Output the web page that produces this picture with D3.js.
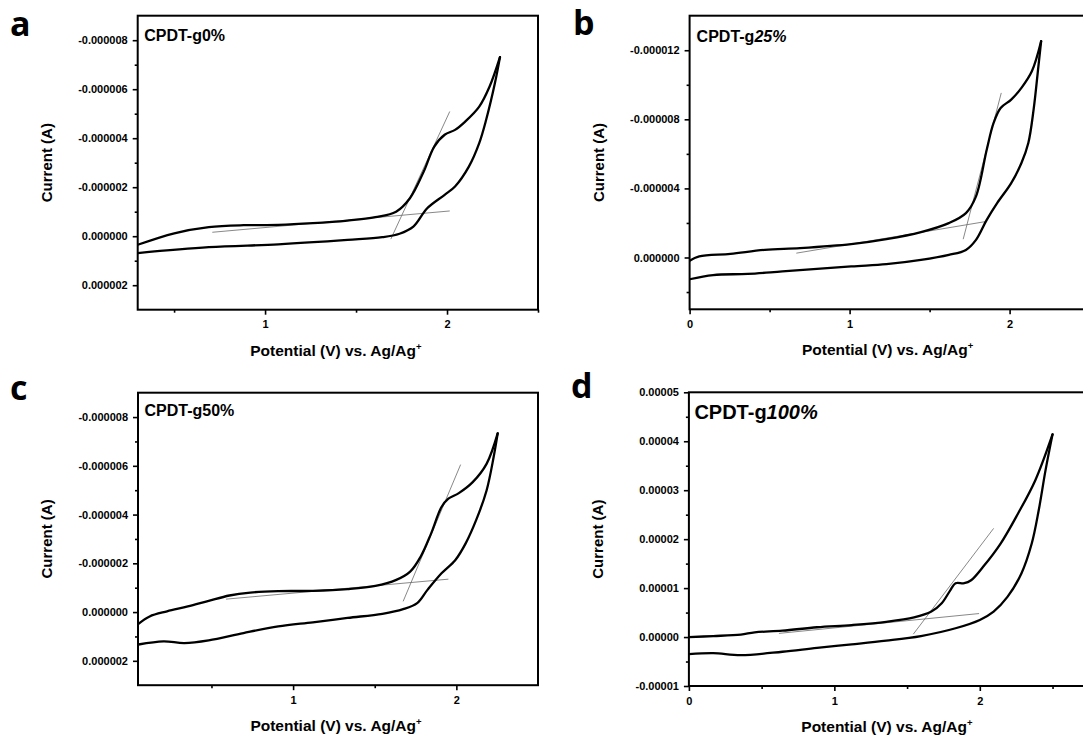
<!DOCTYPE html>
<html><head><meta charset="utf-8">
<script src="https://cdn.jsdelivr.net/npm/d3@7"></script>
<style>
body{margin:0;background:#fff}
svg{display:block}
text{font-family:"Liberation Sans",Arial,sans-serif;font-weight:bold;fill:#000}
</style>
</head><body>
<svg id="chart" width="1083" height="742"></svg>
<script>
// ---------------- DATA (potential V, current A) ----------------
const aForward = [[0.3,0.35e-6],[0.501,-0.12e-6],[0.691,-0.37e-6],[0.882,-0.45e-6],[1.073,-0.46e-6],[1.263,-0.53e-6],[1.453,-0.64e-6],[1.606,-0.78e-6],[1.72,-1.0e-6],[1.796,-1.55e-6],[1.872,-2.64e-6],[1.93,-3.66e-6],[1.987,-4.14e-6],[2.044,-4.34e-6],[2.10,-4.68e-6],[2.177,-5.29e-6],[2.234,-6.11e-6],[2.291,-7.31e-6]];
const aReverse = [[2.291,-7.31e-6],[2.263,-6.24e-6],[2.215,-4.75e-6],[2.177,-3.80e-6],[2.12,-2.84e-6],[2.044,-2.03e-6],[1.987,-1.69e-6],[1.891,-1.14e-6],[1.815,-0.39e-6],[1.739,-0.10e-6],[1.644,0.04e-6],[1.453,0.15e-6],[1.073,0.33e-6],[0.691,0.45e-6],[0.3,0.69e-6]];
const aTangent1 = [[0.71,-0.16e-6],[2.015,-1.03e-6]];
const aTangent2 = [[1.691,0.12e-6],[2.015,-5.09e-6]];

const bForward = [[0,0.19e-6],[0.06,-0.06e-6],[0.255,-0.21e-6],[0.47,-0.44e-6],[0.69,-0.54e-6],[1.01,-0.77e-6],[1.23,-1.06e-6],[1.446,-1.47e-6],[1.62,-1.99e-6],[1.727,-2.57e-6],[1.79,-3.54e-6],[1.857,-6.24e-6],[1.90,-7.79e-6],[1.944,-8.66e-6],[2.01,-9.14e-6],[2.074,-9.82e-6],[2.139,-10.78e-6],[2.197,-12.52e-6]];
const bReverse = [[2.197,-12.52e-6],[2.18,-11.07e-6],[2.15,-8.56e-6],[2.117,-6.63e-6],[2.074,-5.47e-6],[2.01,-4.31e-6],[1.922,-3.15e-6],[1.857,-2.18e-6],[1.79,-1.02e-6],[1.727,-0.44e-6],[1.62,-0.15e-6],[1.446,0.14e-6],[1.23,0.39e-6],[1.01,0.52e-6],[0.58,0.81e-6],[0.364,0.95e-6],[0.147,1.02e-6],[0,1.26e-6]];
const bTangent1 = [[0.667,-0.25e-6],[1.857,-2.09e-6]];
const bTangent2 = [[1.71,-1.06e-6],[1.948,-9.53e-6]];

const cForward = [[0.053,0.48e-6],[0.121,0.18e-6],[0.228,-0.03e-6],[0.355,-0.23e-6],[0.483,-0.46e-6],[0.61,-0.68e-6],[0.738,-0.80e-6],[0.909,-0.86e-6],[1.121,-0.87e-6],[1.334,-0.94e-6],[1.504,-1.07e-6],[1.632,-1.32e-6],[1.717,-1.66e-6],[1.781,-2.27e-6],[1.845,-3.22e-6],[1.909,-4.31e-6],[1.951,-4.65e-6],[2.015,-4.88e-6],[2.1,-5.33e-6],[2.185,-6.08e-6],[2.253,-7.33e-6]];
const cReverse = [[2.253,-7.33e-6],[2.228,-6.35e-6],[2.185,-4.99e-6],[2.121,-3.77e-6],[2.057,-2.82e-6],[1.994,-2.14e-6],[1.909,-1.59e-6],[1.823,-0.91e-6],[1.76,-0.37e-6],[1.674,-0.12e-6],[1.547,0.07e-6],[1.334,0.24e-6],[1.121,0.42e-6],[0.909,0.59e-6],[0.696,0.86e-6],[0.483,1.16e-6],[0.334,1.27e-6],[0.206,1.20e-6],[0.053,1.33e-6]];
const cTangent1 = [[0.589,-0.53e-6],[1.951,-1.35e-6]];
const cTangent2 = [[1.674,-0.44e-6],[2.026,-6.05e-6]];

const dForward = [[0,0],[0.167,0.2e-6],[0.357,0.5e-6],[0.452,0.95e-6],[0.643,1.3e-6],[0.881,2.0e-6],[1.119,2.45e-6],[1.357,3.1e-6],[1.548,4.0e-6],[1.667,5.2e-6],[1.738,6.9e-6],[1.798,9.6e-6],[1.833,11.0e-6],[1.893,11.0e-6],[1.94,11.6e-6],[2.024,14.4e-6],[2.143,19.1e-6],[2.262,25.2e-6],[2.381,32.0e-6],[2.5,41.4e-6]];
const dReverse = [[2.5,41.4e-6],[2.452,34.1e-6],[2.405,25.9e-6],[2.357,19.1e-6],[2.286,13.0e-6],[2.19,8.2e-6],[2.095,5.2e-6],[2.0,3.5e-6],[1.833,1.8e-6],[1.595,0.2e-6],[1.357,-0.75e-6],[1.119,-1.5e-6],[0.881,-2.2e-6],[0.643,-3.0e-6],[0.357,-3.7e-6],[0.167,-3.3e-6],[0,-3.5e-6]];
const dTangent1 = [[0.619,0.75e-6],[1.995,4.8e-6]];
const dTangent2 = [[1.543,0.6e-6],[2.095,22.2e-6]];

// ---------------- TICKS ----------------
const xTicksA = [1,2], xTickLabelsA = ["1","2"], xMinorA = [0.5,1.5,2.5];
const yTicksA = [-8e-6,-6e-6,-4e-6,-2e-6,0,2e-6];
const yTickLabelsA = ["-0.000008","-0.000006","-0.000004","-0.000002","0.000000","0.000002"];
const yMinorA = [-7e-6,-5e-6,-3e-6,-1e-6,1e-6];

const xTicksB = [0,1,2], xTickLabelsB = ["0","1","2"], xMinorB = [0.5,1.5,2.5];
const yTicksB = [-12e-6,-8e-6,-4e-6,0];
const yTickLabelsB = ["-0.000012","-0.000008","-0.000004","0.000000"];
const yMinorB = [-10e-6,-6e-6,-2e-6,2e-6];

const xTicksC = [1,2], xTickLabelsC = ["1","2"], xMinorC = [0.5,1.5];
const yTicksC = yTicksA, yTickLabelsC = yTickLabelsA, yMinorC = yMinorA;

const xTicksD = [0,1,2], xTickLabelsD = ["0","1","2"], xMinorD = [0.5,1.5,2.5];
const yTicksD = [-1e-5,0,1e-5,2e-5,3e-5,4e-5,5e-5];
const yTickLabelsD = ["-0.00001","0.00000","0.00001","0.00002","0.00003","0.00004","0.00005"];
const yMinorD = [-0.5e-5,0.5e-5,1.5e-5,2.5e-5,3.5e-5,4.5e-5];

const sampleNames = [["CPDT-g","0%",false],["CPDT-g","25%",true],["CPDT-g","50%",false],["CPDT-g","100%",true]];
const panelLetters = ["a","b","c","d"];
const xTitle = "Potential (V) vs. Ag/Ag", xTitleSup = "+";
const yTitle = "Current (A)";

// ---------------- LAYOUT ----------------
const panels = [
  {fwd:aForward, rev:aReverse, tan:[aTangent1,aTangent2], xd:[0.3,2.5], yd:[-9e-6,3e-6], flip:true,
   xt:xTicksA, xl:xTickLabelsA, xm:xMinorA, yt:yTicksA, yl:yTickLabelsA, ym:yMinorA,
   box:{l:137.7,t:15.7,w:400.3,h:294}, letter:{x:10,y:36}, name:{dx:6.5,y:41,fs:16}},
  {fwd:bForward, rev:bReverse, tan:[bTangent1,bTangent2], xd:[0,2.5], yd:[-14e-6,3e-6], flip:true,
   xt:xTicksB, xl:xTickLabelsB, xm:xMinorB, yt:yTicksB, yl:yTickLabelsB, ym:yMinorB,
   box:{l:689.6,t:15.7,w:400,h:293.6}, letter:{x:573,y:35}, name:{dx:7,y:41.5,fs:16}},
  {fwd:cForward, rev:cReverse, tan:[cTangent1,cTangent2], xd:[0.05,2.5], yd:[-9e-6,3e-6], flip:true,
   xt:xTicksC, xl:xTickLabelsC, xm:xMinorC, yt:yTicksC, yl:yTickLabelsC, ym:yMinorC,
   box:{l:138,t:392.7,w:400,h:292.5}, letter:{x:10,y:400}, name:{dx:6.5,y:416,fs:16}},
  {fwd:dForward, rev:dReverse, tan:[dTangent1,dTangent2], xd:[0,2.75], yd:[-1e-5,5e-5], flip:false,
   xt:xTicksD, xl:xTickLabelsD, xm:xMinorD, yt:yTicksD, yl:yTickLabelsD, ym:yMinorD,
   box:{l:688.9,t:392.3,w:400,h:293.7}, letter:{x:571,y:398}, name:{dx:5.5,y:419,fs:20}}
];

const svg = d3.select("#chart");
svg.append("rect").attr("width",1083).attr("height",742).attr("fill","#fff");

panels.forEach((p,i)=>{
  const b = p.box;
  const x = d3.scaleLinear().domain(p.xd).range([b.l, b.l+b.w]);
  const y = d3.scaleLinear().domain(p.yd).range(p.flip ? [b.t, b.t+b.h] : [b.t+b.h, b.t]);
  const g = svg.append("g");
  const clipId = "clip"+i;
  svg.append("clipPath").attr("id",clipId).append("rect")
    .attr("x",b.l).attr("y",b.t).attr("width",b.w).attr("height",b.h);

  const line = d3.line().x(d=>x(d[0])).y(d=>y(d[1])).curve(d3.curveCatmullRom.alpha(0.5));
  const straight = d3.line().x(d=>x(d[0])).y(d=>y(d[1]));
  const plot = g.append("g").attr("clip-path",`url(#${clipId})`);
  p.tan.forEach(t=>{
    plot.append("path").attr("d",straight(t)).attr("fill","none")
      .attr("stroke","#6a6a6a").attr("stroke-width",0.8);
  });
  [p.fwd,p.rev].forEach(s=>{
    plot.append("path").attr("d",line(s)).attr("fill","none")
      .attr("stroke","#000").attr("stroke-width",2.3).attr("stroke-linejoin","round").attr("stroke-linecap","round");
  });

  // axes
  const ax = g.append("g").attr("transform",`translate(0,${b.t+b.h})`)
    .call(d3.axisBottom(x).tickValues(p.xt).tickFormat((d,k)=>p.xl[k]).tickSize(5).tickPadding(6));
  const axm = g.append("g").attr("transform",`translate(0,${b.t+b.h})`)
    .call(d3.axisBottom(x).tickValues(p.xm).tickFormat("").tickSize(3));
  const ay = g.append("g").attr("transform",`translate(${b.l},0)`)
    .call(d3.axisLeft(y).tickValues(p.yt).tickFormat((d,k)=>p.yl[k]).tickSize(5).tickPadding(5));
  const aym = g.append("g").attr("transform",`translate(${b.l},0)`)
    .call(d3.axisLeft(y).tickValues(p.ym).tickFormat("").tickSize(3));
  [ax,axm,ay,aym].forEach(a=>{
    a.select(".domain").remove();
    a.selectAll("line").attr("stroke","#000").attr("stroke-width",1.6);
    a.selectAll("text").attr("font-size",11).attr("font-weight","bold")
      .attr("font-family","'Liberation Sans', Arial, sans-serif").attr("fill","#000");
  });

  // frame
  g.append("rect").attr("x",b.l).attr("y",b.t).attr("width",b.w).attr("height",b.h)
    .attr("fill","none").attr("stroke","#000").attr("stroke-width",2);

  // titles
  const xt = g.append("text").attr("x",b.l+b.w/2 - 2).attr("y",b.t+b.h+46)
    .attr("text-anchor","middle").attr("font-size",15.5);
  xt.append("tspan").text(xTitle);
  xt.append("tspan").attr("font-size",9.5).attr("dy",-6).text(xTitleSup);

  g.append("text").attr("transform",`translate(${b.l-86},${b.t+b.h/2}) rotate(-90)`)
    .attr("text-anchor","middle").attr("font-size",15).text(yTitle);

  // sample name
  const nm = sampleNames[i];
  const nt = g.append("text").attr("x",b.l+p.name.dx).attr("y",p.name.y).attr("font-size",p.name.fs);
  nt.append("tspan").text(nm[0]);
  nt.append("tspan").attr("font-style",nm[2]?"italic":"normal").text(nm[1]);

  // panel letter
  g.append("text").attr("x",p.letter.x).attr("y",p.letter.y)
    .style("font-family","'Open Sans','Noto Sans',sans-serif").attr("font-weight","bold")
    .attr("font-size",34).text(panelLetters[i]);
});
</script>
</body></html>
